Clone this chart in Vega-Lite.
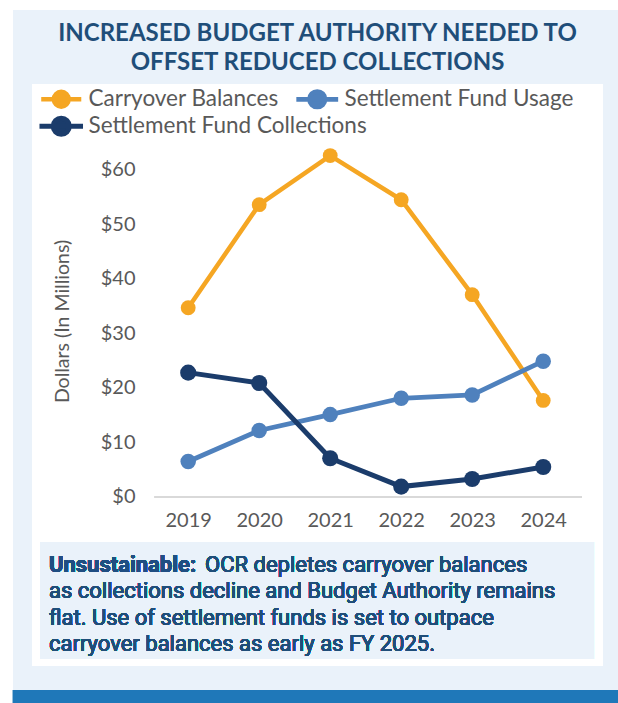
{
  "$schema": "https://vega.github.io/schema/vega-lite/v6.json",
  "width": 571,
  "height": 582,
  "autosize": {"type": "none"},
  "padding": {"left": 32, "top": 84, "right": 15, "bottom": 37},
  "background": "#ffffff",
  "config": {
    "view": {"stroke": null},
    "font": "Lato"
  },
  "title": {
    "text": ["INCREASED BUDGET AUTHORITY NEEDED TO", "OFFSET REDUCED COLLECTIONS"],
    "font": "Lato",
    "fontSize": 24,
    "fontWeight": "bold",
    "color": "#1F4E79",
    "anchor": "middle",
    "lineHeight": 29,
    "offset": -65,
    "zindex": 1
  },
  "data": {
    "values": [
      {"year": 2019, "series": "Carryover Balances", "value": 34.7},
      {"year": 2020, "series": "Carryover Balances", "value": 53.6},
      {"year": 2021, "series": "Carryover Balances", "value": 62.6},
      {"year": 2022, "series": "Carryover Balances", "value": 54.5},
      {"year": 2023, "series": "Carryover Balances", "value": 37.1},
      {"year": 2024, "series": "Carryover Balances", "value": 17.7},
      {"year": 2019, "series": "Settlement Fund Usage", "value": 6.5},
      {"year": 2020, "series": "Settlement Fund Usage", "value": 12.2},
      {"year": 2021, "series": "Settlement Fund Usage", "value": 15.1},
      {"year": 2022, "series": "Settlement Fund Usage", "value": 18.1},
      {"year": 2023, "series": "Settlement Fund Usage", "value": 18.7},
      {"year": 2024, "series": "Settlement Fund Usage", "value": 24.9},
      {"year": 2019, "series": "Settlement Fund Collections", "value": 22.8},
      {"year": 2020, "series": "Settlement Fund Collections", "value": 20.9},
      {"year": 2021, "series": "Settlement Fund Collections", "value": 7.1},
      {"year": 2022, "series": "Settlement Fund Collections", "value": 1.9},
      {"year": 2023, "series": "Settlement Fund Collections", "value": 3.3},
      {"year": 2024, "series": "Settlement Fund Collections", "value": 5.5}
    ]
  },
  "layer": [
    {
      "mark": {"type": "rect", "color": "#EAF2FA"},
      "encoding": {
        "x": {"datum": 2016.532, "type": "quantitative", "scale": {"domain": [2016.8, 2024.842], "nice": false, "zero": false}, "axis": {"values": [2019, 2020, 2021, 2022, 2023, 2024], "format": "d", "orient": "bottom", "offset": -169, "domain": false, "ticks": false, "grid": false, "labelPadding": 13, "labelFontSize": 20, "labelColor": "#595959", "labelFont": "Lato", "labelFlush": false, "labelOverlap": false, "title": null, "zindex": 1}},
        "x2": {"datum": 2025.06},
        "y": {"datum": 89.31, "type": "quantitative", "scale": {"domain": [-31, 75.73], "nice": false, "zero": false}, "axis": {"values": [0, 10, 20, 30, 40, 50, 60], "format": "$.0f", "offset": -107, "domain": false, "ticks": false, "grid": false, "labelPadding": 4, "labelFontSize": 20, "labelColor": "#595959", "labelFont": "Lato", "title": "Dollars  (In Millions)", "titleFont": "Lato", "titleFontSize": 19.5, "titleFontWeight": "normal", "titleColor": "#595959", "titlePadding": 28, "titleY": 237, "zindex": 1}},
        "y2": {"datum": -35.39}
      }
    },
    {
      "mark": {"type": "rect", "color": "#1F78B9"},
      "encoding": {
        "x": {"datum": 2016.532, "type": "quantitative"},
        "x2": {"datum": 2025.06},
        "y": {"datum": -35.39, "type": "quantitative"},
        "y2": {"datum": -37.9}
      }
    },
    {
      "mark": {"type": "rect", "color": "#ffffff"},
      "encoding": {
        "x": {"datum": 2016.8, "type": "quantitative"},
        "x2": {"datum": 2024.842},
        "y": {"datum": 75.73, "type": "quantitative"},
        "y2": {"datum": -31}
      }
    },
    {
      "mark": {"type": "rect", "color": "#EAF2FA"},
      "encoding": {
        "x": {"datum": 2016.913, "type": "quantitative"},
        "x2": {"datum": 2024.716},
        "y": {"datum": -8.25, "type": "quantitative"},
        "y2": {"datum": -29.71}
      }
    },
    {
      "mark": {"type": "rule", "color": "#D9D9D9", "strokeWidth": 2},
      "encoding": {
        "x": {"datum": 2018.53, "type": "quantitative"},
        "x2": {"datum": 2024.54},
        "y": {"datum": 0, "type": "quantitative"}
      }
    },
    {
      "mark": {"type": "line"},
      "encoding": {
        "x": {"field": "year", "type": "quantitative"},
        "y": {"field": "value", "type": "quantitative"},
        "color": {"field": "series", "type": "nominal",
          "scale": {"domain": ["Carryover Balances", "Settlement Fund Usage", "Settlement Fund Collections"], "range": ["#F5A623", "#4F81BD", "#1B3C6B"]},
          "legend": {"orient": "none", "legendX": 18, "legendY": 4, "direction": "horizontal", "columns": 2, "gridAlign": "none", "title": null, "labelFont": "Lato", "labelFontSize": 22.5, "labelColor": "#595959", "labelLimit": 400, "symbolType": "M-2.7,0H2.7M-1,0A1,1 0 1,1 1,0A1,1 0 1,1 -1,0Z", "symbolSize": 196, "symbolStrokeWidth": 4, "labelOffset": 16, "columnPadding": -81, "rowPadding": -9, "padding": 0, "zindex": 1}},
        "strokeWidth": {"field": "series", "type": "nominal", "scale": {"domain": ["Carryover Balances", "Settlement Fund Usage", "Settlement Fund Collections"], "range": [4.5, 5, 3.5]}, "legend": null}
      }
    },
    {
      "mark": {"type": "circle", "opacity": 1},
      "encoding": {
        "x": {"field": "year", "type": "quantitative"},
        "y": {"field": "value", "type": "quantitative"},
        "color": {"field": "series", "type": "nominal"},
        "size": {"field": "series", "type": "nominal", "scale": {"domain": ["Carryover Balances", "Settlement Fund Usage", "Settlement Fund Collections"], "range": [220, 260, 190]}, "legend": null}
      }
    },
    {
      "mark": {"type": "text", "text": "Unsustainable:", "font": "Roboto", "fontSize": 22, "fontWeight": "bold", "color": "#1F4E82", "align": "left", "baseline": "middle"},
      "encoding": {
        "x": {"datum": 2017.039, "type": "quantitative"},
        "y": {"datum": -12.47, "type": "quantitative"}
      }
    },
    {
      "mark": {"type": "text", "text": "OCR depletes carryover balances", "font": "Roboto", "fontSize": 22, "color": "#1F4E79", "align": "left", "baseline": "middle"},
      "encoding": {
        "x": {"datum": 2019.237, "type": "quantitative"},
        "y": {"datum": -12.47, "type": "quantitative"}
      }
    },
    {
      "mark": {"type": "text", "text": "as collections decline and Budget Authority remains", "font": "Roboto", "fontSize": 22, "color": "#1F4E79", "align": "left", "baseline": "middle"},
      "encoding": {
        "x": {"datum": 2017.039, "type": "quantitative"},
        "y": {"datum": -17.33, "type": "quantitative"}
      }
    },
    {
      "mark": {"type": "text", "text": "flat. Use of settlement funds is set to outpace", "font": "Roboto", "fontSize": 22, "color": "#1F4E79", "align": "left", "baseline": "middle"},
      "encoding": {
        "x": {"datum": 2017.039, "type": "quantitative"},
        "y": {"datum": -22.19, "type": "quantitative"}
      }
    },
    {
      "mark": {"type": "text", "text": "carryover balances as early as FY 2025.", "font": "Roboto", "fontSize": 22, "color": "#1F4E79", "align": "left", "baseline": "middle"},
      "encoding": {
        "x": {"datum": 2017.039, "type": "quantitative"},
        "y": {"datum": -27.05, "type": "quantitative"}
      }
    }
  ]
}
